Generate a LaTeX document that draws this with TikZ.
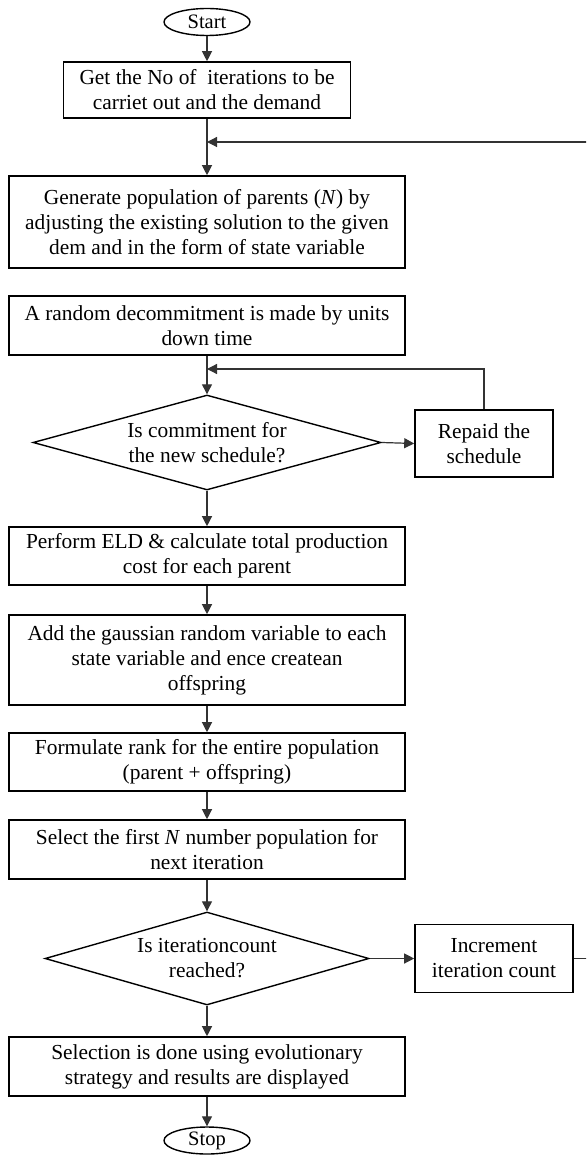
\documentclass[tikz,border=0pt]{standalone}
\usepackage{fontspec}
\setmainfont{Liberation Serif}
\usetikzlibrary{shapes.geometric,arrows.meta}
\begin{document}
\begin{tikzpicture}[x=1pt,y=-1pt,
 box/.style={draw=black, line width=1.6pt, rectangle, inner sep=0pt, align=center, font=\fontsize{21.4}{25}\selectfont},
 term/.style={draw=black, line width=1.4pt, ellipse, inner sep=0pt, minimum width=86pt, minimum height=27pt, font=\fontsize{20.5}{25}\selectfont},
 dec/.style={draw=black, line width=1.4pt, diamond, inner sep=0pt},
 txt/.style={align=center, inner sep=0pt, font=\fontsize{21.4}{25}\selectfont},
 conn/.style={draw=black!80, line width=1.2pt, -{Triangle[length=10pt,width=10pt]}},
 plain/.style={draw=black!80, line width=1.2pt}]
\useasboundingbox (0,0) rectangle (586,1155);
\clip (0,0) rectangle (586,1155);

\node[term] (start) at (207,22) {Start};
\node[box, minimum width=287pt, minimum height=56pt] (get) at (207,90) {Get the No of \ iterations to be\\carriet out and the demand};
\node[box, minimum width=396pt, minimum height=92pt] (gen) at (207,222) {Generate population of parents (\textit{N}) by\\adjusting the existing solution to the given\\dem and in the form of state variable};
\node[box, minimum width=396pt, minimum height=59pt] (rand) at (207,325.5) {A random decommitment is made by units\\down time};
\node[dec, minimum width=348pt, minimum height=95pt] (d1) at (207,442.5) {};
\node[txt] (d1t) at (d1.center) {Is commitment for\\the new schedule?};
\node[box, minimum width=138pt, minimum height=67pt] (rep) at (484,443.5) {Repaid the\\schedule};
\node[box, minimum width=396pt, minimum height=58pt] (perf) at (207,556) {Perform ELD \& calculate total production\\cost for each parent};
\node[box, minimum width=396pt, minimum height=90pt] (add) at (207,660) {Add the gaussian random variable to each\\state variable and ence createan\\offspring};
\node[box, minimum width=396pt, minimum height=58pt] (form) at (207,762) {Formulate rank for the entire population\\(parent + offspring)};
\node[box, minimum width=396pt, minimum height=59pt] (sel) at (207,849.5) {Select the first \textit{N} number population for\\next iteration};
\node[dec, minimum width=324pt, minimum height=93pt] (d2) at (207,958.5) {};
\node[txt] (d2t) at (d2.center) {Is iterationcount\\reached?};
\node[box, minimum width=158pt, minimum height=68pt] (inc) at (494,958.5) {Increment\\iteration count};
\node[box, minimum width=396pt, minimum height=59pt] (fin) at (207,1066.5) {Selection is done using evolutionary\\strategy and results are displayed};
\node[term] (stop) at (207,1140.5) {Stop};

\coordinate (j1) at (207,142);
\coordinate (j2) at (207,369);
\coordinate (r1) at (600,958.5);
\coordinate (r2) at (600,142);

\draw[conn] (start) -- (get);
\draw[conn] (get) -- (gen);
\draw[conn] (rand) -- (d1.north);
\draw[conn] (d1.east) -- (rep.west);
\draw[conn] (rep.north) |- (j2);
\draw[conn] (d1.south) -- (perf);
\draw[conn] (perf) -- (add);
\draw[conn] (add) -- (form);
\draw[conn] (form) -- (sel);
\draw[conn] (sel) -- (d2.north);
\draw[conn] (d2.east) -- (inc.west);
\draw[conn] (inc.east) -- (r1) -- (r2) -- (j1);
\draw[conn] (d2.south) -- (fin);
\draw[conn] (fin) -- (stop);
\end{tikzpicture}
\end{document}
